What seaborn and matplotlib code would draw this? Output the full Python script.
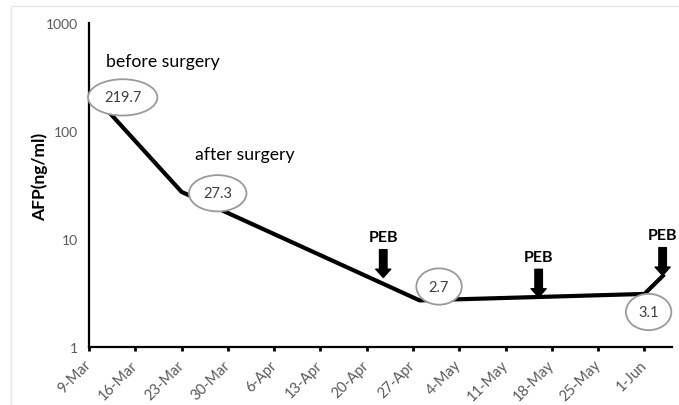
import matplotlib
matplotlib.use("Agg")
import matplotlib.pyplot as plt
import matplotlib.dates as mdates
from matplotlib.ticker import FixedLocator, FixedFormatter, NullLocator
import seaborn as sns
import pandas as pd

# ---- data ----
dates = ["2021-03-12", "2021-03-23", "2021-04-28", "2021-06-01", "2021-06-04"]
afp = [150, 27.3, 2.7, 3.1, 4.7]
point_labels = ["219.7", "27.3", "2.7", "3.1"]
peb_dates = ["2021-04-22 12:00", "2021-05-16", "2021-06-03 18:00"]
peb_tip_values = [4.4, 2.9, 4.6]
xtick_dates = pd.date_range("2021-03-09", "2021-06-01", freq="7D")
ytick_values = [1, 10, 100, 1000]
ytick_labels = ["1", "10", "100", "1000"]

df = pd.DataFrame({"date": pd.to_datetime(dates), "AFP": afp})

sns.set_theme(style="white")
plt.rcParams["font.family"] = ["Lato", "DejaVu Sans"]

fig = plt.figure(figsize=(6.79, 4.06), dpi=100)
ax = fig.add_axes([89/679, 1-348/406, (672-89)/679, (348-24)/406])

sns.lineplot(data=df, x="date", y="AFP", ax=ax, color="black", linewidth=3.0,
             solid_joinstyle="miter", solid_capstyle="butt")

ax.set_yscale("log")
ax.set_ylim(1, 1000)
ax.set_xlim(pd.Timestamp("2021-03-09"), pd.Timestamp("2021-06-05 04:00"))
ax.yaxis.set_major_locator(FixedLocator(ytick_values))
ax.yaxis.set_major_formatter(FixedFormatter(ytick_labels))
ax.yaxis.set_minor_locator(NullLocator())
ax.xaxis.set_major_locator(FixedLocator(mdates.date2num(xtick_dates)))
ax.xaxis.set_major_formatter(FixedFormatter([f"{d.day}-{d.strftime('%b')}" for d in xtick_dates]))

for s in ["top", "right"]:
    ax.spines[s].set_visible(False)
for s in ["left", "bottom"]:
    ax.spines[s].set_color("black")
    ax.spines[s].set_linewidth(1.6)

ax.tick_params(axis="y", length=0, labelsize=10, labelcolor="#595959", pad=8)
ax.tick_params(axis="x", length=3, width=2, color="black", direction="out",
               labelsize=10.5, labelcolor="#595959", pad=8, bottom=True)
for lbl in ax.get_xticklabels():
    lbl.set_rotation(45)
    lbl.set_ha("right")
    lbl.set_va("center")
    lbl.set_rotation_mode("anchor")

ax.set_xlabel("")
ax.set_ylabel("AFP(ng/ml)", fontsize=12.5, fontweight="bold", color="black")
ax.yaxis.set_label_coords(-0.070, 0.528)

# point labels in ellipses
label_offsets = [(10, 10.5), (26, -1), (14, 10), (3, -13)]
for d, v, txt, off in zip(dates[:4], afp[:4], point_labels, label_offsets):
    ax.annotate(txt, xy=(pd.Timestamp(d), v), xytext=off, textcoords="offset points",
                ha="center", va="center", fontsize=10.5, color="#404040",
                bbox=dict(boxstyle="ellipse,pad=0.4", fc="white", ec="#9a9a9a", lw=1.3))

# text annotations
ax.text(pd.Timestamp("2021-03-11 12:00"), 10**((348-62)/108), "before surgery",
        fontsize=12.7, color="black", ha="left", va="center")
ax.text(pd.Timestamp("2021-03-25"), 10**((348-155)/108), "after surgery",
        fontsize=12.7, color="black", ha="left", va="center")

# PEB arrows
for d, v in zip(peb_dates, peb_tip_values):
    t = pd.Timestamp(d)
    ax.annotate("", xy=(t, v), xytext=(0, 20), textcoords="offset points",
                arrowprops=dict(arrowstyle="simple,head_length=0.5,head_width=0.9,tail_width=0.45",
                                color="black", shrinkA=0, shrinkB=0))
    ax.annotate("PEB", xy=(t, v), xytext=(0, 24), textcoords="offset points",
                ha="center", va="bottom", fontsize=11.5, fontweight="bold", color="black")

# faint outer border lines
fig.add_artist(plt.Line2D([11/679, 1], [1-7/406, 1-7/406], color="#e6e6e6", lw=1,
                          transform=fig.transFigure))
fig.add_artist(plt.Line2D([11/679, 11/679], [0, 1-7/406], color="#e6e6e6", lw=1,
                          transform=fig.transFigure))

fig.savefig("out.png", dpi=100)
